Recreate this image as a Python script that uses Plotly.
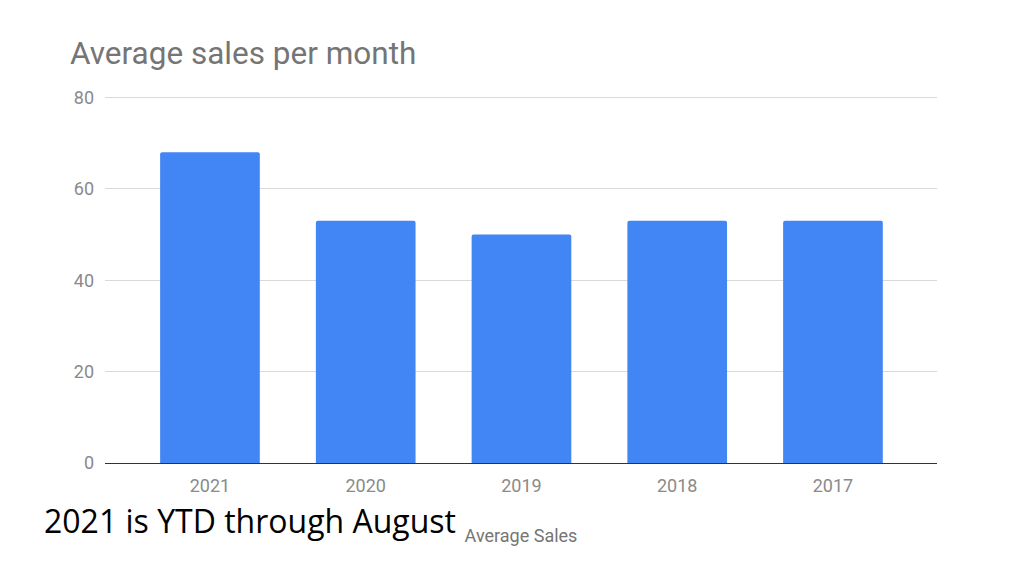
import plotly.graph_objects as go

# data
years = ["2021", "2020", "2019", "2018", "2017"]
avg_sales = [68, 53, 50, 53, 53]
y_ticks = [0, 20, 40, 60, 80]

# page has an 8px body margin, so the figure is drawn 8px smaller
OFF = 8
W, H = 1024 - OFF, 576 - OFF
L, T = 105 - OFF, 96 - OFF
R = W - (937 - OFF)
B = H - (463 - OFF)
plot_w = W - L - R
plot_h = H - T - B


def px_x(px):
    # screen pixel x -> paper coordinate
    return (px - OFF - L) / plot_w


def px_y(py):
    # screen pixel y (from top) -> paper coordinate
    return (H - B - (py - OFF)) / plot_h


bars = go.Bar(
    x=years,
    y=avg_sales,
    marker=dict(color="#4285f4", line=dict(width=0), cornerradius=2),
    width=0.64,
    name="Average Sales",
)

fig = go.Figure(data=[bars])

fig.update_layout(
    width=W,
    height=H,
    margin=dict(l=L, r=R, t=T, b=B),
    paper_bgcolor="white",
    plot_bgcolor="white",
    showlegend=False,
    font=dict(family="Roboto", color="#757575"),
    title=dict(
        text="Average sales per month",
        x=(70 - OFF) / W,
        xanchor="left",
        y=1 - (53 - OFF) / H,
        yanchor="middle",
        font=dict(family="Roboto", size=31.5, color="#757575"),
    ),
    xaxis=dict(
        range=[-0.674, 4.668],
        showgrid=False,
        showline=True,
        linecolor="#333333",
        linewidth=1,
        ticks="",
        ticklabelstandoff=6,
        tickfont=dict(size=18, color="#8a8a8a"),
        title=dict(text="Average Sales", font=dict(size=18, color="#757575"), standoff=34),
        fixedrange=True,
    ),
    yaxis=dict(
        range=[0, 80.3],
        tickvals=y_ticks,
        showgrid=True,
        gridcolor="#d9d9d9",
        gridwidth=1,
        zeroline=False,
        showline=False,
        ticks="",
        ticklabelstandoff=10,
        tickfont=dict(size=18, color="#8a8a8a"),
    ),
    annotations=[
        dict(
            text="2021 is YTD through August",
            xref="paper",
            yref="paper",
            x=px_x(42),
            y=px_y(520),
            xanchor="left",
            yanchor="middle",
            showarrow=False,
            font=dict(family="Open Sans", size=32, color="#000000"),
        )
    ],
)

fig.write_html("out.html")
